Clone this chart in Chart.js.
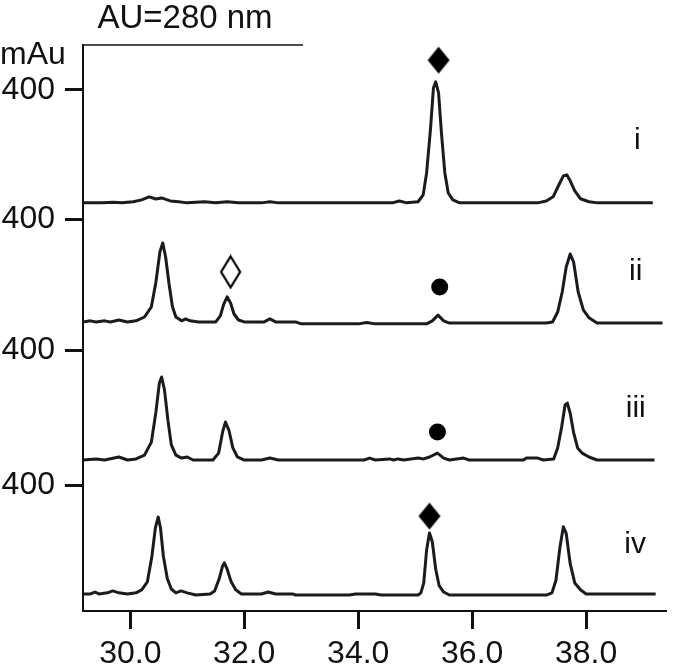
<!DOCTYPE html>
<html>
<head>
<meta charset="utf-8">
<title>AU=280 nm chromatograms</title>
<script src="https://cdn.jsdelivr.net/npm/chart.js@4.4.1/dist/chart.umd.min.js"></script>
<style>
  html, body { margin: 0; padding: 0; background: #fff; }
  #wrap { position: relative; width: 675px; height: 670px; }
</style>
</head>
<body>
<div id="wrap"><canvas id="hplcChart"></canvas></div>
<script>
// retention time (min) / signal (mAU above each trace's own baseline)
const traceI = [[29.17,0],[29.5,0],[29.7,2],[29.85,0],[30.05,4],[30.2,11],[30.33,22],[30.45,14],[30.55,18],[30.7,7],[30.85,4],[31.0,0],[31.3,4],[31.5,0],[31.7,4],[31.9,0],[32.3,0],[32.45,4],[32.6,0],[34.6,0],[34.72,7],[34.85,0],[35.05,4],[35.14,29],[35.2,109],[35.27,273],[35.32,418],[35.36,440],[35.41,400],[35.46,255],[35.52,109],[35.58,36],[35.66,11],[35.78,0],[37.15,0],[37.3,7],[37.42,22],[37.52,65],[37.6,98],[37.66,102],[37.72,80],[37.8,44],[37.9,15],[38.05,4],[38.2,0],[39.17,0]];
const traceII = [[29.17,0],[29.3,4],[29.4,0],[29.55,4],[29.65,0],[29.8,7],[29.95,0],[30.1,4],[30.25,18],[30.37,55],[30.45,145],[30.52,255],[30.57,287],[30.62,236],[30.68,138],[30.74,55],[30.8,18],[30.9,4],[30.97,11],[31.05,4],[31.2,0],[31.5,0],[31.58,22],[31.64,65],[31.7,91],[31.76,69],[31.82,29],[31.9,7],[32.0,0],[32.35,0],[32.45,11],[32.55,0],[32.9,0],[33.0,-7],[34.0,-7],[34.15,-2],[34.3,-7],[35.2,-7],[35.3,4],[35.4,25],[35.5,4],[35.6,-4],[37.3,-4],[37.41,0],[37.5,36],[37.58,109],[37.65,200],[37.72,247],[37.78,218],[37.86,109],[37.95,44],[38.05,15],[38.19,-4],[39.34,-4]];
const traceIII = [[29.17,0],[29.4,4],[29.55,0],[29.8,11],[29.95,0],[30.1,4],[30.25,18],[30.37,65],[30.45,175],[30.51,280],[30.55,302],[30.6,255],[30.66,145],[30.72,55],[30.8,18],[30.9,7],[31.0,11],[31.1,0],[31.45,0],[31.55,25],[31.62,102],[31.67,138],[31.73,109],[31.8,44],[31.88,11],[32.0,0],[32.3,0],[32.45,7],[32.6,0],[34.1,0],[34.2,7],[34.3,0],[34.55,4],[34.62,0],[34.7,4],[34.8,0],[35.05,7],[35.15,4],[35.25,11],[35.39,25],[35.5,7],[35.6,0],[35.85,7],[35.95,0],[36.9,0],[36.95,7],[37.15,7],[37.25,0],[37.43,4],[37.5,44],[37.57,120],[37.63,200],[37.67,207],[37.72,170],[37.78,100],[37.85,44],[37.93,25],[38.05,11],[38.19,0],[39.2,0]];
const traceIV = [[29.17,0],[29.3,0],[29.38,7],[29.45,0],[29.6,4],[29.69,11],[29.8,4],[29.95,0],[30.1,4],[30.2,15],[30.3,44],[30.38,138],[30.44,240],[30.49,280],[30.53,240],[30.58,138],[30.65,55],[30.72,18],[30.8,4],[30.89,11],[31.0,4],[31.15,-4],[31.4,0],[31.48,11],[31.56,55],[31.62,102],[31.65,113],[31.7,90],[31.77,44],[31.85,15],[31.95,0],[32.3,0],[32.42,7],[32.55,0],[32.85,0],[32.9,-4],[33.85,-4],[33.95,0],[34.3,0],[34.4,-4],[35.05,-4],[35.1,4],[35.15,40],[35.2,160],[35.25,222],[35.3,190],[35.36,90],[35.42,30],[35.5,7],[35.6,-4],[37.3,-4],[37.4,4],[37.47,50],[37.54,170],[37.6,244],[37.65,220],[37.72,110],[37.8,40],[37.9,15],[38.0,0],[39.22,0]];

const traces = [traceI, traceII, traceIII, traceIV];
const traceNames = ['i', 'ii', 'iii', 'iv'];
// baseline of each trace on the shared stacked axis (mAU)
const traceOffsets = [1484, 1051, 549, 62];
const traceLabelPos = [[38.9, 1709], [38.87, 1233], [38.87, 734], [38.86, 240]];

const xTicks = [30, 32, 34, 36, 38];
const yTickValues = [1895, 1425, 949, 458];
const yTickLabels = ['400', '400', '400', '400'];

// peak markers: [x, y] on the stacked axis
const filledDiamonds = [[35.41, 2003], [35.25, 345]];
const openDiamonds = [[31.76, 1233]];
const dots = [[35.43, 1178], [35.39, 651]];

const INK = '#1a1a20';
const FONT = "'Liberation Sans', Arial, sans-serif";

function diamondCanvas(w, h, filled) {
  const c = document.createElement('canvas');
  c.width = w + 4;
  c.height = h + 4;
  const g = c.getContext('2d');
  g.beginPath();
  g.moveTo(c.width / 2, 2);
  g.lineTo(c.width - 2, c.height / 2);
  g.lineTo(c.width / 2, c.height - 2);
  g.lineTo(2, c.height / 2);
  g.closePath();
  if (filled) {
    g.fillStyle = '#000';
    g.fill();
  } else {
    g.lineWidth = 2.2;
    g.strokeStyle = '#000';
    g.stroke();
  }
  return c;
}

const overlay = {
  id: 'overlay',
  afterDraw(chart) {
    const { ctx, chartArea, scales } = chart;
    ctx.save();
    ctx.fillStyle = '#111';
    ctx.strokeStyle = '#111';
    // short top rule
    ctx.lineWidth = 1.5;
    ctx.beginPath();
    ctx.moveTo(chartArea.left, chartArea.top);
    ctx.lineTo(303, chartArea.top);
    ctx.stroke();

    ctx.font = '33px ' + FONT;
    ctx.textBaseline = 'alphabetic';
    ctx.textAlign = 'center';
    ctx.fillText('AU=280 nm', 185, 28);
    ctx.font = '32px ' + FONT;
    ctx.textAlign = 'left';
    ctx.fillText('mAu', 0, 64);

    ctx.font = '30px ' + FONT;
    ctx.textAlign = 'center';
    ctx.textBaseline = 'middle';
    traceNames.forEach((name, i) => {
      const [lx, ly] = traceLabelPos[i];
      ctx.fillText(name, scales.x.getPixelForValue(lx), scales.y.getPixelForValue(ly));
    });
    ctx.restore();
  }
};

const datasets = traces.map((pts, i) => ({
  label: traceNames[i],
  data: pts.map(([x, v]) => ({ x, y: traceOffsets[i] + v })),
  showLine: true,
  borderColor: INK,
  borderWidth: 3,
  borderJoinStyle: 'round',
  pointRadius: 0,
  tension: 0,
  fill: false
}));

datasets.push({
  label: 'filled',
  data: filledDiamonds.map(([x, y]) => ({ x, y })),
  pointStyle: diamondCanvas(22, 27, true),
  showLine: false
});
datasets.push({
  label: 'open',
  data: openDiamonds.map(([x, y]) => ({ x, y })),
  pointStyle: diamondCanvas(19, 31, false),
  showLine: false
});
datasets.push({
  label: 'dot',
  data: dots.map(([x, y]) => ({ x, y })),
  pointStyle: 'circle',
  pointRadius: 8.5,
  backgroundColor: '#000',
  borderColor: '#000',
  borderWidth: 0,
  showLine: false
});

new Chart(document.getElementById('hplcChart'), {
  type: 'scatter',
  data: { datasets },
  plugins: [overlay],
  options: {
    responsive: true,
    maintainAspectRatio: false,
    animation: false,
    layout: { padding: { top: 45, right: 0, left: 0, bottom: 0 } },
    plugins: {
      legend: { display: false },
      tooltip: { enabled: false }
    },
    scales: {
      x: {
        type: 'linear',
        min: 29.17,
        max: 39.41,
        afterBuildTicks: (scale) => { scale.ticks = xTicks.map((v) => ({ value: v })); },
        afterFit: (scale) => { scale.height = 59; scale.paddingRight = 0; },
        grid: { drawOnChartArea: false, tickLength: 18, tickWidth: 3, color: '#111' },
        border: { display: true, color: '#111', width: 2 },
        ticks: {
          color: '#111',
          padding: 6,
          maxRotation: 0,
          font: { family: FONT, size: 32 },
          callback: (v) => Number(v).toFixed(1)
        }
      },
      y: {
        type: 'linear',
        min: 0,
        max: 2058,
        afterBuildTicks: (scale) => { scale.ticks = yTickValues.map((v) => ({ value: v })); },
        afterFit: (scale) => { scale.width = 83; },
        grid: { drawOnChartArea: false, tickLength: 18, tickWidth: 3, color: '#111' },
        border: { display: true, color: '#111', width: 2 },
        ticks: {
          color: '#111',
          padding: 10,
          font: { family: FONT, size: 32 },
          callback: (v, i) => yTickLabels[i]
        }
      }
    }
  }
});
</script>
</body>
</html>
